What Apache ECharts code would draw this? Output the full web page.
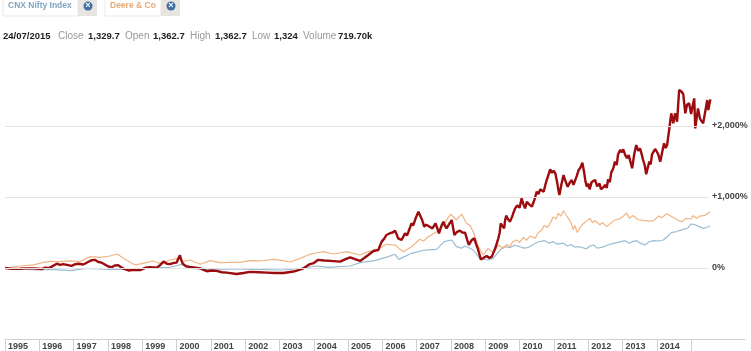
<!DOCTYPE html>
<html>
<head>
<meta charset="utf-8">
<title>CNX Nifty Index vs Deere & Co</title>
<script src="https://cdn.jsdelivr.net/npm/echarts@6/dist/echarts.min.js"></script>
<style>
html, body { margin: 0; padding: 0; background: #fff; }
#chart { width: 751px; height: 351px; }
</style>
</head>
<body>
<div id="chart"></div>
<script>
var yearTicks = [1995,1996,1997,1998,1999,2000,2001,2002,2003,2004,2005,2006,2007,2008,2009,2010,2011,2012,2013,2014,2015];
var yearLabels = yearTicks.slice(0, 20);
var gridValues = [0, 1000, 2000];

// deere & co, thick red line: [year, % change]
var deereEarly = [[1995.00,0],[1995.2,-12],[1995.44,-10],[1995.6,-5],[1995.83,-5],[1996.07,-15],[1996.17,5],[1996.28,0],[1996.36,20],[1996.51,60],[1996.6,45],[1996.70,55],[1996.94,30],[1997.05,55],[1997.14,60],[1997.28,50],[1997.42,85],[1997.53,110],[1997.62,115],[1997.72,85],[1997.82,75],[1998.0,25],[1998.11,10],[1998.2,35],[1998.30,40],[1998.45,-10],[1998.60,-35],[1998.75,-25],[1998.94,-30],[1999.1,5],[1999.23,10],[1999.42,5],[1999.52,40],[1999.62,90],[1999.72,60],[1999.81,55],[1999.9,70],[2000.00,75],[2000.05,130],[2000.10,180],[2000.14,110],[2000.18,60],[2000.28,25],[2000.39,15],[2000.55,5],[2000.69,-5],[2000.88,-45],[2001.03,-35],[2001.17,-40],[2001.32,-60],[2001.46,-65],[2001.75,-85],[2001.95,-70],[2002.14,-55],[2002.4,-60],[2002.63,-65],[2002.85,-70],[2003.11,-70],[2003.41,-50],[2003.55,-30],[2003.70,-5],[2003.89,55],[2004.0,70],[2004.13,115],[2004.3,105],[2004.48,100],[2004.77,90]];
var deereMid = [[2004.91,122],[2005.06,150],[2005.2,125],[2005.35,99],[2005.59,183],[2005.74,239],[2005.88,253],[2005.98,371],[2006.05,410],[2006.12,465],[2006.22,490],[2006.30,500],[2006.37,526],[2006.42,470],[2006.46,418],[2006.56,394],[2006.66,488],[2006.72,460],[2006.76,511],[2006.85,629],[2006.90,600],[2006.97,700],[2007.05,793],[2007.10,740],[2007.16,676],[2007.22,582],[2007.28,610],[2007.34,591],[2007.40,575],[2007.46,558],[2007.55,629],[2007.60,560],[2007.65,488],[2007.72,590],[2007.78,652],[2007.82,600],[2007.87,558],[2007.95,620],[2008.02,676],[2008.06,570],[2008.10,465],[2008.18,510],[2008.26,526],[2008.33,500],[2008.41,497],[2008.47,400],[2008.52,324],[2008.60,390],[2008.68,418],[2008.73,340],[2008.78,277]];
var deereRise = [[2008.87,122],[2008.93,137],[2009.04,170],[2009.12,140],[2009.19,160],[2009.29,277],[2009.38,418],[2009.42,500],[2009.45,629],[2009.50,590],[2009.55,559],[2009.58,680],[2009.61,737],[2009.66,690],[2009.72,653],[2009.78,720],[2009.83,790],[2009.87,840],[2009.93,880],[2010.00,850],[2010.06,981],[2010.11,900],[2010.16,840],[2010.21,934],[2010.27,900],[2010.36,864],[2010.43,960],[2010.50,1075],[2010.55,1040],[2010.60,1108],[2010.65,1120],[2010.70,1075],[2010.75,1170],[2010.79,1239],[2010.84,1310],[2010.89,1389],[2010.94,1340],[2010.99,1370],[2011.04,1333],[2011.09,1220],[2011.13,1100],[2011.16,1028],[2011.22,1180],[2011.28,1309],[2011.34,1220],[2011.40,1145],[2011.46,1200],[2011.52,1239],[2011.57,1170],[2011.62,1169],[2011.67,1300],[2011.72,1380],[2011.78,1420],[2011.83,1483],[2011.88,1350],[2011.92,1220],[2011.96,1145],[2012.00,1190],[2012.04,1108],[2012.10,1210],[2012.15,1192],[2012.20,1240],[2012.26,1150],[2012.33,1190],[2012.37,1110],[2012.41,1084]];
var deereLate = [[2012.45,1140],[2012.49,1170],[2012.54,1130],[2012.58,1250],[2012.63,1210],[2012.67,1340],[2012.73,1404],[2012.78,1498],[2012.83,1450],[2012.87,1600],[2012.93,1662],[2012.98,1630],[2013.02,1671],[2013.08,1590],[2013.13,1545],[2013.18,1590],[2013.22,1568],[2013.28,1404],[2013.34,1600],[2013.40,1732],[2013.46,1650],[2013.51,1686],[2013.56,1600],[2013.60,1521],[2013.65,1440],[2013.69,1320],[2013.74,1420],[2013.78,1498],[2013.82,1460],[2013.86,1600],[2013.95,1676],[2014.00,1640],[2014.04,1600],[2014.10,1498],[2014.16,1640],[2014.21,1756],[2014.26,1690],[2014.30,1732],[2014.36,1950],[2014.42,2178],[2014.48,2037],[2014.53,2178],[2014.59,2060],[2014.65,2506],[2014.71,2490],[2014.77,2450],[2014.83,2178],[2014.88,2300],[2014.94,2319],[2015.00,2170],[2015.05,2300],[2015.09,2389],[2015.12,1967],[2015.20,2248],[2015.26,2100],[2015.35,2037],[2015.41,2200],[2015.47,2366],[2015.50,2225],[2015.56,2375]];

// second pale line, orange
var orangeEarly = [[1995.00,0],[1995.44,28],[1995.83,43],[1996.12,80],[1996.31,94],[1996.60,90],[1996.90,99],[1997.19,90],[1997.48,160],[1997.77,150],[1998.06,169],[1998.27,197],[1998.50,122],[1998.79,43],[1999.03,66],[1999.32,99],[1999.52,66],[1999.81,113],[2000.05,136],[2000.18,90],[2000.39,113],[2000.69,52],[2000.98,103],[2001.27,75],[2001.56,80],[2001.85,80],[2002.14,103],[2002.43,99],[2002.82,122],[2003.11,103],[2003.31,85],[2003.60,136],[2003.89,193],[2004.1,215],[2004.28,230],[2004.57,197],[2004.96,230],[2005.15,205]];
var orangeMid = [[2005.35,183],[2005.59,230],[2005.88,263],[2006.12,333],[2006.37,324],[2006.5,270],[2006.61,230],[2006.85,300],[2007.09,404],[2007.2,380],[2007.34,441],[2007.58,511],[2007.82,629],[2007.9,700],[2008.00,760],[2008.16,676],[2008.31,760],[2008.45,629],[2008.55,600],[2008.65,511],[2008.80,300],[2008.94,183],[2009.08,277],[2009.24,207],[2009.38,324]];
var orangeLate = [[2009.53,277],[2009.62,330],[2009.72,301],[2009.80,370],[2009.92,395],[2010.00,360],[2010.11,432],[2010.2,390],[2010.3,450],[2010.45,418],[2010.55,500],[2010.65,535],[2010.72,600],[2010.8,570],[2010.89,629],[2010.98,720],[2011.06,690],[2011.13,770],[2011.2,730],[2011.28,807],[2011.35,750],[2011.42,700],[2011.5,640],[2011.56,540],[2011.61,600],[2011.68,500],[2011.76,570],[2011.85,620],[2011.95,660],[2012.05,699],[2012.13,640],[2012.2,665],[2012.34,610],[2012.42,640],[2012.54,582],[2012.65,630],[2012.78,676],[2012.9,690],[2013.0,720],[2013.12,775],[2013.2,700],[2013.3,740],[2013.46,680],[2013.6,670],[2013.75,660],[2013.9,666],[2014.05,730],[2014.15,710],[2014.28,765],[2014.42,730],[2014.55,690],[2014.72,650],[2014.85,700],[2015.0,690],[2015.06,737],[2015.16,700],[2015.26,730],[2015.4,740],[2015.55,793]];

// index line, pale blue
var niftyEarly = [[1995.00,0],[1995.92,-28],[1996.31,-18],[1996.90,-37],[1997.38,-5],[1998.06,-18],[1998.79,-18],[1999.42,5],[1999.81,10],[2000.15,52],[2000.39,-5],[2000.88,-18],[2001.66,-14],[2002.24,-18],[2003.11,-28],[2003.60,-5],[2004.08,28],[2004.43,10],[2005.06,28],[2005.35,75],[2005.78,103],[2006.17,160],[2006.37,193],[2006.48,122],[2006.85,207],[2007.24,253],[2007.58,263],[2007.80,371],[2008.02,394],[2008.16,300],[2008.30,280],[2008.41,310],[2008.65,253],[2008.84,136],[2009.08,113],[2009.23,136]];
var niftyLate = [[2009.43,253],[2009.55,300],[2009.72,286],[2009.85,320],[2010.01,300],[2010.13,280],[2010.26,291],[2010.4,330],[2010.55,370],[2010.74,385],[2010.85,350],[2010.98,371],[2011.1,335],[2011.27,350],[2011.4,310],[2011.5,330],[2011.61,295],[2011.75,300],[2011.95,270],[2012.05,310],[2012.15,324],[2012.27,280],[2012.39,291],[2012.55,320],[2012.73,347],[2012.9,365],[2013.07,385],[2013.2,350],[2013.31,375],[2013.41,385],[2013.52,350],[2013.65,325],[2013.78,370],[2013.9,385],[2014.05,380],[2014.19,394],[2014.3,440],[2014.43,502],[2014.55,510],[2014.77,544],[2014.9,560],[2015.0,620],[2015.11,610],[2015.2,590],[2015.35,558],[2015.45,570],[2015.55,591]];

function pct(v) {
  if (v === 0) return '0%';
  return '+' + v.toLocaleString('en-US') + '%';
}

var fontName = '"Liberation Sans", Arial, sans-serif';

// header chips and the quote line
function chip(x, w, label, color) {
  var cx = x + w + 10;
  return [
    { type: 'rect', shape: { x: x, y: -2, width: w, height: 18 }, style: { fill: '#fff', stroke: '#ece9e4' } },
    { type: 'rect', shape: { x: x + w, y: -2, width: 19, height: 18 }, style: { fill: '#e8e5e0' } },
    { type: 'circle', shape: { cx: cx, cy: 6, r: 4.5 }, style: { fill: '#3f70a3' } },
    { type: 'text', style: { x: cx, y: 6, text: '×', fill: '#fff', font: 'bold 9px ' + fontName, align: 'center', verticalAlign: 'middle' } },
    { type: 'text', style: { x: x + 5, y: 6, text: label, fill: color, font: 'bold 8.5px ' + fontName, verticalAlign: 'middle' } }
  ];
}
function quote(x, label, bold) {
  return { type: 'text', style: { x: x, y: 36, text: label, fill: bold ? '#222' : '#999', font: (bold ? 'bold 9.5px ' : '10px ') + fontName, verticalAlign: 'middle' } };
}
var header = chip(3, 75, 'CNX Nifty Index', '#7fa6c2').concat(chip(105, 56, 'Deere & Co', '#e6a873'), [
  quote(3, '24/07/2015', true),
  quote(58, 'Close', false), quote(88, '1,329.7', true),
  quote(125, 'Open', false), quote(153, '1,362.7', true),
  quote(190, 'High', false), quote(215, '1,362.7', true),
  quote(252, 'Low', false), quote(274, '1,324', true),
  quote(303, 'Volume', false), quote(338, '719.70k', true)
]);

var myChart = echarts.init(document.getElementById('chart'), null, { renderer: 'canvas' });
myChart.setOption({
  animation: false,
  backgroundColor: '#fff',
  graphic: header,
  grid: { left: 5, right: 6, top: 55, height: 284, outerBoundsMode: 'none' },
  xAxis: {
    type: 'value',
    min: 1995,
    max: 2016.57,
    splitLine: { show: false },
    axisLine: { show: true, onZero: false, lineStyle: { color: '#cfcfcf' } },
    axisTick: { show: true, length: 12, customValues: yearTicks, lineStyle: { color: '#cfcfcf' } },
    axisLabel: {
      customValues: yearLabels,
      align: 'left',
      padding: [0, 0, 0, 3],
      margin: 3,
      color: '#444',
      fontFamily: fontName,
      fontWeight: 'bold',
      fontSize: 9,
      formatter: function (v) { return String(v); }
    }
  },
  yAxis: {
    type: 'value',
    position: 'right',
    offset: -33,
    min: -1000,
    max: 3000,
    interval: 1000,
    splitLine: { show: false },
    axisLine: { show: false },
    axisTick: { show: false },
    axisLabel: {
      customValues: gridValues,
      margin: 0,
      align: 'left',
      padding: [2, 0, 0, 0],
      color: '#444',
      fontFamily: fontName,
      fontWeight: 'bold',
      fontSize: 9,
      formatter: pct
    }
  },
  series: [
    {
      type: 'line',
      name: 'CNX Nifty Index',
      data: niftyEarly.concat(niftyLate),
      showSymbol: false,
      lineStyle: { color: '#9bbdd2', width: 1.2 },
      markLine: {
        silent: true,
        symbol: 'none',
        label: { show: false },
        lineStyle: { color: '#e4e4e4', width: 1, type: 'solid' },
        data: gridValues.map(function (v) {
          return [{ coord: [1995, v] }, { coord: [2015.5, v] }];
        })
      }
    },
    {
      type: 'line',
      name: 'orange',
      data: orangeEarly.concat(orangeMid, orangeLate),
      showSymbol: false,
      lineStyle: { color: '#f0b584', width: 1.2 }
    },
    {
      type: 'line',
      name: 'Deere & Co',
      data: deereEarly.concat(deereMid, deereRise, deereLate),
      showSymbol: false,
      lineStyle: { color: '#9c0b0d', width: 2.4 }
    }
  ]
});
</script>
</body>
</html>
